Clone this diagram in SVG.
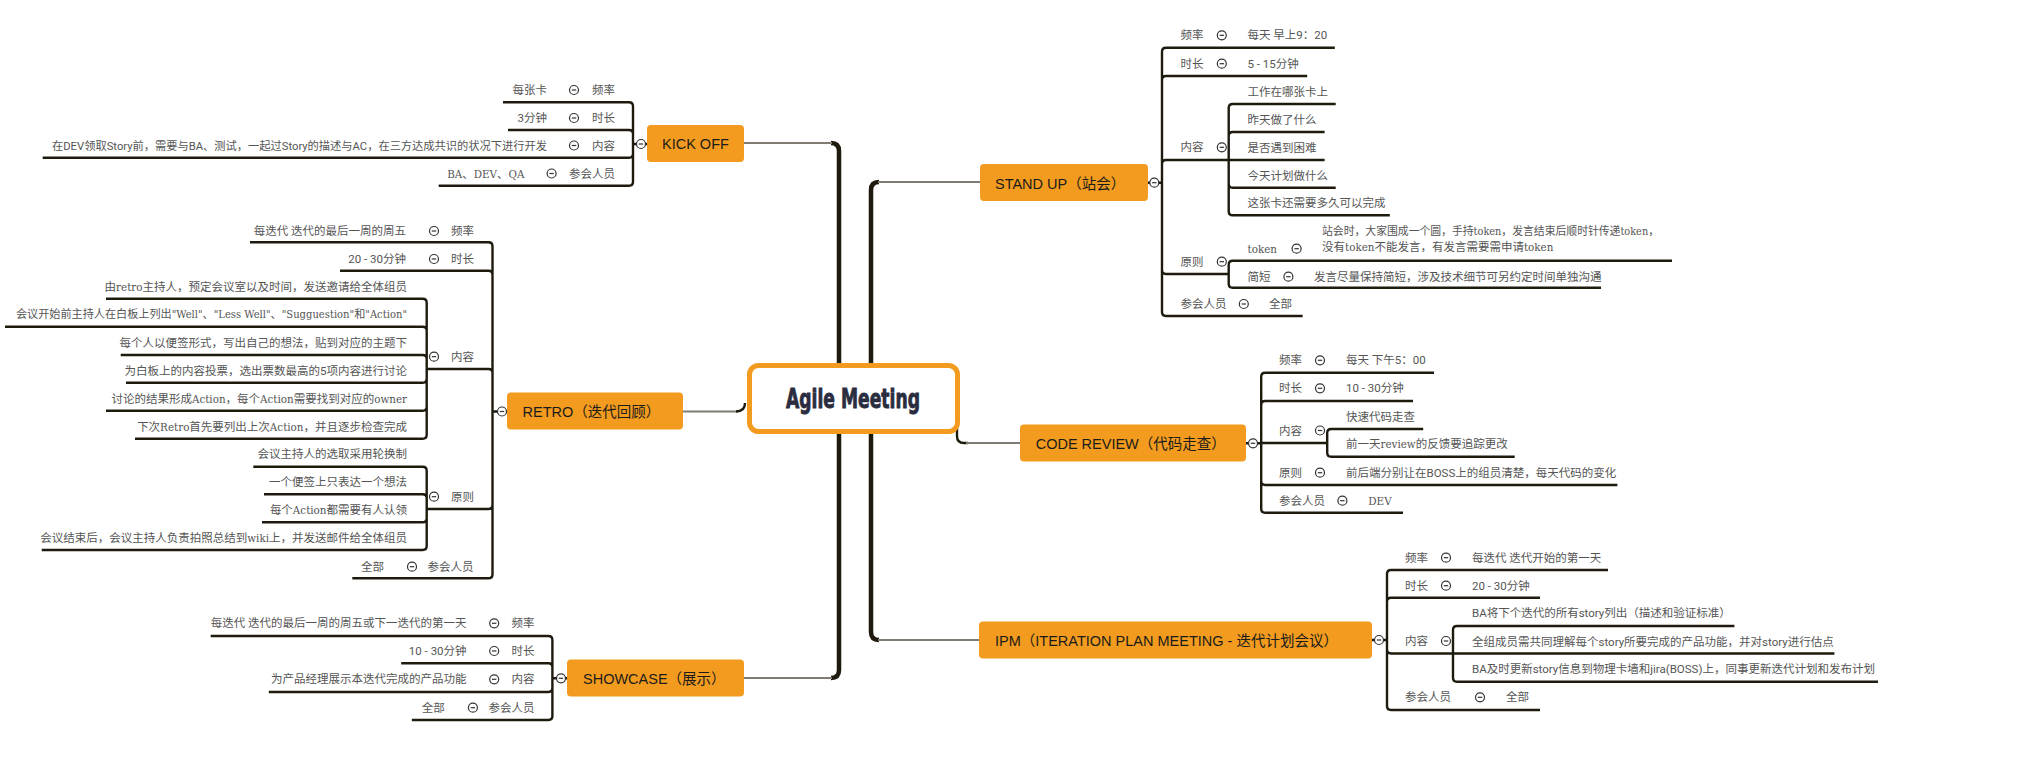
<svg xmlns="http://www.w3.org/2000/svg" width="2019" height="771" viewBox="0 0 2019 771">
<defs>
<style>
.ln{fill:none;stroke:#1f1a0e;stroke-width:2.4}
.tr{fill:none;stroke:#1f1a0e;stroke-width:4.5}
.gc{fill:none;stroke:#807c74;stroke-width:2}
.box{fill:#f39b1e}
.mt{font-family:"Liberation Sans","Noto Sans CJK SC",sans-serif;font-size:14.5px;fill:#1b1b1b}
.t{font-family:"Liberation Sans Narrow","Roboto","Noto Sans CJK SC",sans-serif;font-size:11.5px;fill:#555}
.s{font-family:"DejaVu Serif Condensed","Liberation Serif","Noto Sans CJK SC",serif;font-size:11.5px;fill:#555}
.e{text-anchor:end}
.cc{fill:#fff;stroke:#333;stroke-width:1.2}
.cm{stroke:#333;stroke-width:1.2}
</style>
<g id="m"><circle class="cc" r="4.5"/><path class="cm" d="M-2.2 0H2.2"/></g>
</defs>
<rect width="2019" height="771" fill="#fff"/>
<g id="connectors">
<path class="tr" d="M839 380V151Q839 143 831 143"/>
<path class="gc" d="M832 143H744"/>
<path class="tr" d="M839 420V670Q839 678 831 678"/>
<path class="gc" d="M832 678H744"/>
<path class="tr" d="M871 380V190Q871 182 879 182"/>
<path class="gc" d="M878 182H980"/>
<path class="tr" d="M871 420V632Q871 640 879 640"/>
<path class="gc" d="M878 640H979"/>
<path class="gc" d="M683 411.5H738"/>
<path class="ln" d="M736 411.5Q745 411.5 745 403"/>
<path class="ln" d="M957 428V436Q957 443 964 443H968"/>
<path class="gc" d="M966 443H1020"/>
<path class="ln" d="M633 144V106.3Q633 102.3 629 102.3H503M633 144V134Q633 130 629 130H508M633 144V153.7Q633 157.7 629 157.7H42.7M633 144V181.7Q633 185.7 629 185.7H438.7M633 144H647"/>
<path class="ln" d="M492.5 411.5V246.3Q492.5 242.3 488.5 242.3H250M492.5 411.5V274.7Q492.5 270.7 488.5 270.7H340M492.5 411.5V373Q492.5 369 488.5 369H426.7M492.5 411.5V505Q492.5 509 488.5 509H426.7M492.5 411.5V574.3Q492.5 578.3 488.5 578.3H352.3M492.5 411.5H507"/>
<path class="ln" d="M426.7 369V302.7Q426.7 298.7 422.7 298.7H106M426.7 369V330.7Q426.7 326.7 422.7 326.7H5M426.7 369V359Q426.7 355 422.7 355H120.7M426.7 369V378.7Q426.7 382.7 422.7 382.7H126M426.7 369V406.7Q426.7 410.7 422.7 410.7H106M426.7 369V434.7Q426.7 438.7 422.7 438.7H135"/>
<path class="ln" d="M426.7 509V470.7Q426.7 466.7 422.7 466.7H253.3M426.7 509V498.3Q426.7 494.3 422.7 494.3H264M426.7 509V518.3Q426.7 522.3 422.7 522.3H262M426.7 509V546Q426.7 550 422.7 550H41.7"/>
<path class="ln" d="M552.4 678.3V640Q552.4 636 548.4 636H210.7M552.4 678.3V667.3Q552.4 663.3 548.4 663.3H401.2M552.4 678.3V688Q552.4 692 548.4 692H268.8M552.4 678.3V716Q552.4 720 548.4 720H411.8M552.4 678.3H567"/>
<path class="ln" d="M1162 182.7V51.7Q1162 47.7 1166 47.7H1334.8M1162 182.7V80Q1162 76 1166 76H1307.2M1162 182.7V164Q1162 160 1166 160H1228.7M1162 182.7V270Q1162 274 1166 274H1228.7M1162 182.7V312Q1162 316 1166 316H1302.6M1148 182.7H1162"/>
<path class="ln" d="M1228.7 160V108Q1228.7 104 1232.7 104H1335.7M1228.7 160V136Q1228.7 132 1232.7 132H1324.6M1228.7 160H1324.6M1228.7 160V183.7Q1228.7 187.7 1232.7 187.7H1335.7M1228.7 160V211.3Q1228.7 215.3 1232.7 215.3H1389.8"/>
<path class="ln" d="M1228.7 274V264.7Q1228.7 260.7 1232.7 260.7H1672M1228.7 274V283.7Q1228.7 287.7 1232.7 287.7H1601"/>
<path class="ln" d="M1261.2 443.3V376.7Q1261.2 372.7 1265.2 372.7H1434M1261.2 443.3V405Q1261.2 401 1265.2 401H1413M1261.2 443H1327.2M1261.2 443.3V481Q1261.2 485 1265.2 485H1617.4M1261.2 443.3V508.7Q1261.2 512.7 1265.2 512.7H1403M1246 443.3H1261.2"/>
<path class="ln" d="M1327.2 443V433Q1327.2 429 1331.2 429H1423.2M1327.2 443V452.7Q1327.2 456.7 1331.2 456.7H1514.7"/>
<path class="ln" d="M1387 640V574Q1387 570 1391 570H1608M1387 640V601.7Q1387 597.7 1391 597.7H1540M1387 640V649.3Q1387 653.5 1391 653.5H1453M1387 640V706Q1387 710 1391 710H1540M1372 640H1387"/>
<path class="ln" d="M1453 653.5V630Q1453 626 1457 626H1734.4M1453 653.5H1834.4M1453 653.5V677.7Q1453 681.7 1457 681.7H1878"/>
</g>

<g id="center">
<rect x="749.5" y="365.5" width="208" height="66" rx="9" fill="#fff" stroke="#f39b1e" stroke-width="5"/>
<text x="786" y="408" textLength="134" lengthAdjust="spacingAndGlyphs" font-family="'DejaVu Sans',sans-serif" font-weight="bold" font-size="26" fill="#2a2d40" stroke="#2a2d40" stroke-width="0.9">Agile Meeting</text>
</g>

<g id="kickoff">
<rect class="box" x="647" y="125" width="97" height="37" rx="4"/>
<text class="mt" x="662" y="149">KICK OFF</text>
<use href="#m" x="641" y="144"/>
</g>
<g id="kickoff-items">
<text class="t e" x="615" y="94">频率</text><use href="#m" x="574" y="90"/><text class="t e" x="547" y="94">每张卡</text>
<text class="t e" x="615" y="122">时长</text><use href="#m" x="574" y="118"/><text class="t e" x="547" y="122">3分钟</text>
<text class="t e" x="615" y="149.5">内容</text><use href="#m" x="574" y="145.5"/><text class="t e" x="547" y="149.5" textLength="495" lengthAdjust="spacingAndGlyphs">在DEV领取Story前，需要与BA、测试，一起过Story的描述与AC，在三方达成共识的状况下进行开发</text>
<text class="t e" x="615" y="177.5">参会人员</text><use href="#m" x="551.6" y="173.5"/><text class="s e" x="524.5" y="177.5">BA、DEV、QA</text>
</g>

<g id="retro">
<rect class="box" x="507" y="392.5" width="176" height="37" rx="4"/>
<text class="mt" x="522.5" y="417">RETRO（迭代回顾）</text>
<use href="#m" x="502" y="411.5"/>
</g>
<g id="retro-items">
<text class="t e" x="474" y="235">频率</text><use href="#m" x="434" y="231"/><text class="t e" x="406" y="235">每迭代 迭代的最后一周的周五</text>
<text class="t e" x="474" y="263">时长</text><use href="#m" x="434" y="259"/><text class="t e" x="406" y="263">20 - 30分钟</text>
<text class="t e" x="474" y="360.7">内容</text><use href="#m" x="434" y="356.7"/>
<text class="s e" x="407" y="290.7">由retro主持人，预定会议室以及时间，发送邀请给全体组员</text>
<text class="s e" x="407" y="318.3" textLength="391" lengthAdjust="spacingAndGlyphs">会议开始前主持人在白板上列出"Well"、"Less Well"、"Sugguestion"和"Action"</text>
<text class="t e" x="407" y="346.7">每个人以便签形式，写出自己的想法，贴到对应的主题下</text>
<text class="t e" x="407" y="375">为白板上的内容投票，选出票数最高的5项内容进行讨论</text>
<text class="s e" x="407" y="402.7">讨论的结果形成Action，每个Action需要找到对应的owner</text>
<text class="s e" x="407" y="430.7">下次Retro首先要列出上次Action，并且逐步检查完成</text>
<text class="t e" x="474" y="500.7">原则</text><use href="#m" x="434" y="496.7"/>
<text class="t e" x="407" y="458.3">会议主持人的选取采用轮换制</text>
<text class="t e" x="407" y="486">一个便签上只表达一个想法</text>
<text class="s e" x="407" y="514">每个Action都需要有人认领</text>
<text class="s e" x="407" y="542.3">会议结束后，会议主持人负责拍照总结到wiki上，并发送邮件给全体组员</text>
<text class="t e" x="473.5" y="570.7">参会人员</text><use href="#m" x="412" y="566.7"/><text class="t e" x="384" y="570.7">全部</text>
</g>

<g id="showcase">
<rect class="box" x="567" y="659.5" width="177" height="37" rx="4"/>
<text class="mt" x="583" y="684">SHOWCASE（展示）</text>
<use href="#m" x="561" y="678.3"/>
</g>
<g id="showcase-items">
<text class="t e" x="534.5" y="627.3">频率</text><use href="#m" x="494.2" y="623.3"/><text class="t e" x="466.6" y="627.3">每迭代 迭代的最后一周的周五或下一迭代的第一天</text>
<text class="t e" x="534.5" y="655">时长</text><use href="#m" x="494.2" y="651"/><text class="t e" x="466.6" y="655">10 - 30分钟</text>
<text class="t e" x="534.5" y="683.3">内容</text><use href="#m" x="494.2" y="679.3"/><text class="t e" x="466.6" y="683.3">为产品经理展示本迭代完成的产品功能</text>
<text class="t e" x="534.5" y="711.7">参会人员</text><use href="#m" x="472.9" y="707.7"/><text class="t e" x="444.8" y="711.7">全部</text>
</g>

<g id="standup">
<rect class="box" x="980" y="164" width="168" height="37" rx="4"/>
<text class="mt" x="995" y="188.5">STAND UP（站会）</text>
<use href="#m" x="1154.3" y="182.7"/>
</g>
<g id="standup-items">
<text class="t" x="1180.5" y="39.3">频率</text><use href="#m" x="1221.8" y="35.3"/><text class="t" x="1247.5" y="39.3">每天 早上9：20</text>
<text class="t" x="1180.5" y="67.7">时长</text><use href="#m" x="1221.8" y="63.7"/><text class="t" x="1247.5" y="67.7">5 - 15分钟</text>
<text class="t" x="1180.5" y="151.3">内容</text><use href="#m" x="1221.8" y="147.3"/>
<text class="t" x="1247.5" y="96">工作在哪张卡上</text>
<text class="t" x="1247.5" y="124">昨天做了什么</text>
<text class="t" x="1247.5" y="152">是否遇到困难</text>
<text class="t" x="1247.5" y="180">今天计划做什么</text>
<text class="t" x="1247.5" y="207.3">这张卡还需要多久可以完成</text>
<text class="t" x="1180.5" y="265.7">原则</text><use href="#m" x="1221.8" y="261.7"/>
<text class="s" x="1247.5" y="252.7">token</text><use href="#m" x="1296.6" y="248.7"/>
<text class="s" x="1322" y="235" textLength="337" lengthAdjust="spacingAndGlyphs">站会时，大家围成一个圆，手持token，发言结束后顺时针传递token，</text>
<text class="s" x="1322" y="251">没有token不能发言，有发言需要需申请token</text>
<text class="t" x="1247.5" y="280.7">简短</text><use href="#m" x="1288.4" y="276.7"/><text class="t" x="1314" y="280.7">发言尽量保持简短，涉及技术细节可另约定时间单独沟通</text>
<text class="t" x="1180.5" y="308">参会人员</text><use href="#m" x="1243.8" y="304"/><text class="t" x="1269" y="308">全部</text>
</g>

<g id="codereview">
<rect class="box" x="1020" y="424.5" width="226" height="37" rx="4"/>
<text class="mt" x="1035.7" y="449">CODE REVIEW（代码走查）</text>
<use href="#m" x="1253" y="443.3"/>
</g>
<g id="codereview-items">
<text class="t" x="1279" y="364.3">频率</text><use href="#m" x="1320" y="360.3"/><text class="t" x="1346" y="364.3">每天 下午5：00</text>
<text class="t" x="1279" y="392.3">时长</text><use href="#m" x="1320" y="388.3"/><text class="t" x="1346" y="392.3">10 - 30分钟</text>
<text class="t" x="1279" y="434.5">内容</text><use href="#m" x="1320" y="430.5"/>
<text class="t" x="1346" y="420.7">快速代码走查</text>
<text class="s" x="1346" y="448.3">前一天review的反馈要追踪更改</text>
<text class="t" x="1279" y="476.7">原则</text><use href="#m" x="1320" y="472.7"/><text class="t" x="1346" y="476.7">前后端分别让在BOSS上的组员清楚，每天代码的变化</text>
<text class="t" x="1279" y="504.7">参会人员</text><use href="#m" x="1342.4" y="500.7"/><text class="s" x="1368.3" y="504.7">DEV</text>
</g>

<g id="ipm">
<rect class="box" x="979" y="621.5" width="393" height="37" rx="4"/>
<text class="mt" x="995" y="646">IPM（ITERATION PLAN MEETING - 迭代计划会议）</text>
<use href="#m" x="1379" y="640"/>
</g>
<g id="ipm-items">
<text class="t" x="1405" y="561.7">频率</text><use href="#m" x="1446" y="557.7"/><text class="t" x="1472" y="561.7">每迭代 迭代开始的第一天</text>
<text class="t" x="1405" y="589.7">时长</text><use href="#m" x="1446" y="585.7"/><text class="t" x="1472" y="589.7">20 - 30分钟</text>
<text class="t" x="1405" y="645">内容</text><use href="#m" x="1446" y="641"/>
<text class="t" x="1472" y="617.3">BA将下个迭代的所有story列出（描述和验证标准）</text>
<text class="t" x="1472" y="645.7">全组成员需共同理解每个story所要完成的产品功能，并对story进行估点</text>
<text class="t" x="1472" y="673.3">BA及时更新story信息到物理卡墙和jira(BOSS)上，同事更新迭代计划和发布计划</text>
<text class="t" x="1405" y="701.3">参会人员</text><use href="#m" x="1480" y="697.3"/><text class="t" x="1506" y="701.3">全部</text>
</g>
</svg>
